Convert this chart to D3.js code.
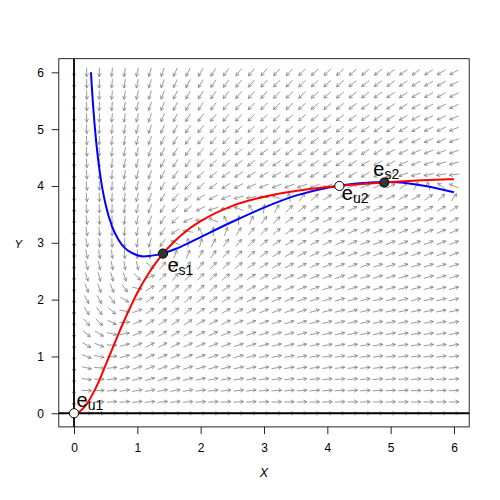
<!DOCTYPE html>
<html><head><meta charset="utf-8">
<script src="https://cdn.jsdelivr.net/npm/d3@7"></script>
<style>body{margin:0;background:#fff} svg{display:block}</style>
</head><body><svg id="c" width="500" height="500"></svg>
<script>
// ---- data ----
const xTickValues = [0, 1, 2, 3, 4, 5, 6];
const yTickValues = [0, 1, 2, 3, 4, 5, 6];
const gridValues = [0,0.2,0.4,0.6,0.8,1,1.2,1.4,1.6,1.8,2,2.2,2.4,2.6,2.8,3,3.2,3.4,3.6,3.8,4,4.2,4.4,4.6,4.8,5,5.2,5.4,5.6,5.8,6];

// x-nullcline (blue)
const blueX = [0.2,0.25,0.268,0.3,0.35,0.4,0.45,0.5,0.6,0.7,0.8,0.9,1.0,1.1,1.2,1.4,1.6,1.8,2.0,2.5,3.0,3.5,4.0,4.5,5.0,5.5,6.0];
const blueY = [7.86,6.39,6.00,5.44,4.78,4.30,3.94,3.67,3.29,3.06,2.91,2.83,2.78,2.76,2.77,2.81,2.89,2.99,3.10,3.37,3.62,3.83,3.97,4.05,4.07,4.01,3.89];
// y-nullcline (red)
const redX = [0,0.1,0.2,0.3,0.4,0.5,0.6,0.7,0.8,0.9,1.0,1.2,1.4,1.6,1.8,2.0,2.5,3.0,3.5,4.0,4.5,5.0,5.5,6.0];
const redY = [0,0.04,0.16,0.35,0.58,0.85,1.12,1.39,1.65,1.89,2.12,2.50,2.80,3.04,3.23,3.38,3.65,3.81,3.91,3.98,4.03,4.07,4.10,4.12];

// equilibria
const eqNames = ["u1", "s1", "u2", "s2"];
const eqX = [0, 1.405, 4.19, 4.9];
const eqY = [0, 2.81, 4.0, 4.06];
const eqStable = [false, true, false, true];

const yRateFactor = 0.7;

// ---- layout / style ----
const svg = d3.select("#c");
const x = d3.scaleLinear().domain([-0.24, 6.24]).range([58.8, 469.2]);
const y = d3.scaleLinear().domain([-0.24, 6.24]).range([426.9, 58.7]);
const FONT = "'Liberation Sans', Arial, Helvetica, sans-serif";
const labelLayout = { u1: [2.5, -6.5], s1: [4.5, 18], u2: [2.5, 14], s2: [-11, -6.5] };

// field from the read nullclines
const B = d3.scaleLinear().domain(blueX).range(blueY);
const R = d3.scaleLinear().domain(redX).range(redY);

// arrows
const arrowG = svg.append("g").attr("stroke", "#808080").attr("stroke-width", 0.8).attr("fill", "none").attr("stroke-linecap", "round");
const frac = 0.75, step = 0.2, headLen = 3.2, headAng = Math.PI / 6;
const pxX = x(1) - x(0), pxY = y(0) - y(1);
let path = "";
gridValues.forEach(gx => {
  gridValues.forEach(gy => {
    const dx = gx * (B(gx) - gy);
    const dy = yRateFactor * gy * (R(gx) - gy);
    const len = Math.hypot(dx, dy);
    if (!(len > 1e-12)) return;
    const vx = frac * step * pxX * dx / len;
    const vy = -frac * step * pxY * dy / len;
    const cx = x(gx), cy = y(gy);
    const x0 = cx - vx / 2, y0 = cy - vy / 2, x1 = cx + vx / 2, y1 = cy + vy / 2;
    const a = Math.atan2(vy, vx);
    const h1x = x1 - headLen * Math.cos(a - headAng), h1y = y1 - headLen * Math.sin(a - headAng);
    const h2x = x1 - headLen * Math.cos(a + headAng), h2y = y1 - headLen * Math.sin(a + headAng);
    path += `M${x0},${y0}L${x1},${y1}M${h1x},${h1y}L${x1},${y1}L${h2x},${h2y}`;
  });
});
arrowG.append("path").attr("d", path);

// zero lines
svg.append("line").attr("x1", x.range()[0]).attr("x2", x.range()[1]).attr("y1", y(0)).attr("y2", y(0))
  .attr("stroke", "#000").attr("stroke-width", 1.8);
svg.append("line").attr("x1", x(0)).attr("x2", x(0)).attr("y1", y.range()[0]).attr("y2", y.range()[1])
  .attr("stroke", "#000").attr("stroke-width", 1.8);

// box
svg.append("rect").attr("x", 58.8).attr("y", 58.7).attr("width", 469.2 - 58.8).attr("height", 426.9 - 58.7)
  .attr("fill", "none").attr("stroke", "#000").attr("stroke-width", 0.85);

// axes
const xAxis = d3.axisBottom(x).tickValues(xTickValues).tickSize(7.2).tickPadding(9.4).tickFormat(d3.format("d"));
const yAxis = d3.axisLeft(y).tickValues(yTickValues).tickSize(7.2).tickPadding(7.6).tickFormat(d3.format("d"));
const gx = svg.append("g").attr("transform", `translate(0,${y.range()[0]})`).call(xAxis);
const gy = svg.append("g").attr("transform", `translate(${x.range()[0]},0)`).call(yAxis);
[gx, gy].forEach(g => {
  g.select(".domain").remove();
  g.selectAll("line").attr("stroke", "#000").attr("stroke-width", 0.85);
  g.selectAll("text").attr("font-family", FONT).attr("font-size", 12).attr("fill", "#000");
});

svg.append("text").attr("x", 264).attr("y", 476.5).attr("text-anchor", "middle")
  .attr("font-family", FONT).attr("font-style", "italic").attr("font-size", 12.5).text("X");
svg.append("text").attr("x", 18.3).attr("y", 247.8).attr("text-anchor", "middle")
  .attr("font-family", FONT).attr("font-style", "italic").attr("font-size", 11.5).text("Y");

// nullclines
svg.append("clipPath").attr("id", "cp").append("rect")
  .attr("x", x(0) - 2).attr("y", y(6)).attr("width", x(6) - x(0) + 2).attr("height", y(0) - y(6) + 3);
const line = d3.line().x(d => x(d[0])).y(d => y(d[1])).curve(d3.curveMonotoneX);
svg.append("path").attr("clip-path", "url(#cp)").attr("d", line(d3.zip(blueX, blueY)))
  .attr("fill", "none").attr("stroke", "#0000ff").attr("stroke-width", 2);
svg.append("path").attr("clip-path", "url(#cp)").attr("d", line(d3.zip(redX, redY)))
  .attr("fill", "none").attr("stroke", "#ff0000").attr("stroke-width", 2);

// equilibria
eqNames.forEach((n, i) => {
  svg.append("circle").attr("cx", x(eqX[i])).attr("cy", y(eqY[i])).attr("r", 4.6)
    .attr("fill", eqStable[i] ? "#333" : "#fff").attr("stroke", "#000").attr("stroke-width", 1);
  const [ox, oy] = labelLayout[n];
  const t = svg.append("text").attr("x", x(eqX[i]) + ox).attr("y", y(eqY[i]) + oy)
    .attr("font-family", FONT).attr("font-size", 20).attr("fill", "#000");
  t.append("tspan").text("e");
  t.append("tspan").attr("font-size", 14).attr("dy", 3).text(n);
});
</script></body></html>
